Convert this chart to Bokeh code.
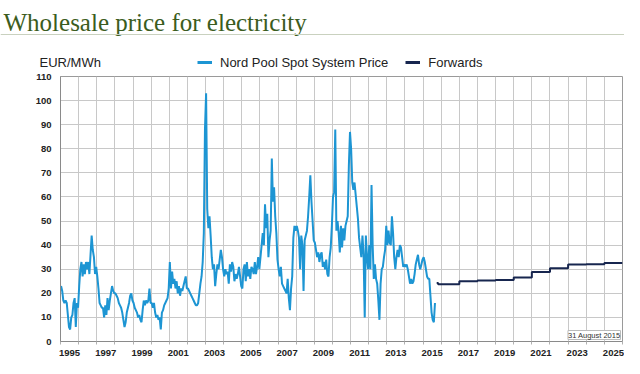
from bokeh.plotting import figure
from bokeh.layouts import column
from bokeh.models import Range1d, FixedTicker, Label, Legend, LegendItem, Span
from bokeh.embed import file_html
from bokeh.resources import INLINE

# ---------------- data ----------------
spot_start = 1995.0
spot_per_year = 16
spot_1995 = [23, 21, 17, 16, 17, 16, 11, 6, 5, 10, 11, 16, 18, 6, 16, 14]
spot_1996 = [23, 30, 33, 27, 32, 28, 33, 30, 33, 28, 36, 44, 38, 35, 28, 31]
spot_1997 = [27, 22, 16, 15, 14, 14, 10, 15, 11, 18, 13, 17, 20, 23, 21, 20]
spot_1998 = [20, 19, 18, 16, 15, 14, 12, 9, 6, 8, 12, 14, 16, 19, 20, 17]
spot_1999 = [16, 14, 13, 12, 10, 11, 9, 8, 13, 17, 15, 17, 16, 17, 22, 16]
spot_2000 = [16, 14, 16, 12, 10, 11, 9, 10, 5, 12, 13, 15, 16, 17, 18, 22]
spot_2001 = [33, 22, 29, 24, 26, 22, 25, 20, 23, 19, 22, 21, 23, 25, 27, 22]
spot_2002 = [22, 21, 20, 19, 18, 17, 16, 15, 15, 16, 20, 24, 27, 33, 45, 88]
spot_2003 = [103, 55, 47, 52, 44, 35, 30, 32, 23, 28, 32, 30, 34, 38, 35, 30]
spot_2004 = [27, 30, 28, 29, 24, 32, 29, 33, 31, 25, 28, 26, 28, 31, 27, 23]
spot_2005 = [22, 30, 32, 25, 33, 27, 30, 26, 31, 30, 28, 33, 28, 31, 35, 30]
spot_2006 = [35, 40, 45, 40, 57, 47, 53, 35, 42, 46, 76, 58, 64, 52, 45, 34]
spot_2007 = [30, 27, 31, 24, 23, 22, 21, 20, 26, 18, 13, 22, 27, 43, 48, 46]
spot_2008 = [48, 46, 43, 30, 44, 40, 21, 42, 44, 46, 52, 60, 69, 58, 50, 42]
spot_2009 = [41, 38, 35, 37, 33, 36, 37, 31, 33, 30, 34, 28, 27, 35, 39, 48]
spot_2010 = [60, 62, 88, 46, 50, 45, 37, 48, 39, 47, 42, 48, 50, 52, 73, 87]
spot_2011 = [80, 66, 63, 66, 61, 56, 51, 43, 39, 35, 44, 36, 10, 44, 35, 30]
spot_2012 = [40, 30, 65, 40, 26, 32, 26, 24, 17, 9, 24, 30, 31, 35, 38, 48]
spot_2013 = [40, 46, 41, 40, 52, 45, 35, 30, 35, 38, 35, 40, 39, 35, 31, 32]
spot_2014 = [31, 32, 30, 27, 24, 26, 24, 25, 28, 32, 34, 36, 32, 30, 32, 34]
spot_2015 = [35, 33, 30, 27, 26, 26, 19, 12, 9, 8, 16]

fwd_dates = [2015.75, 2015.83, 2017, 2018, 2019, 2020, 2021, 2022, 2023, 2024, 2025, 2026]
fwd_values = [24.3, 23.8, 25.0, 25.3, 25.5, 26.6, 28.8, 30.4, 32.0, 32.1, 32.6, 32.6]

x_label_years = list(range(1995, 2026, 2))
grid_years = list(range(1995, 2027))
y_ticks = list(range(0, 111, 10))

title_text = "Wholesale price for electricity"
unit_text = "EUR/MWh"
spot_name = "Nord Pool Spot System Price"
fwd_name = "Forwards"
date_note = "31 August 2015"

spot_values = (spot_1995 + spot_1996 + spot_1997 + spot_1998 + spot_1999 + spot_2000 +
               spot_2001 + spot_2002 + spot_2003 + spot_2004 + spot_2005 + spot_2006 +
               spot_2007 + spot_2008 + spot_2009 + spot_2010 + spot_2011 + spot_2012 +
               spot_2013 + spot_2014 + spot_2015)
spot_dates = [spot_start + (i + 0.5) / spot_per_year for i in range(len(spot_values))]

FONT = "Liberation Sans"
SPOT_COLOR = "#1d95d3"
FWD_COLOR = "#17264f"
W = 624
HEAD_H = 70
MAIN_H = 288
NAN = float("nan")

# ---------------- header (title, rule, unit, legend) ----------------
head = figure(width=W, height=HEAD_H, x_range=Range1d(0, W), y_range=Range1d(0, HEAD_H),
              x_axis_type=None, y_axis_type=None, output_backend="svg", toolbar_location=None,
              min_border=0, min_border_left=0, min_border_right=0, min_border_top=0,
              min_border_bottom=0, frame_align=False)
head.outline_line_color = None
head.xgrid.visible = False
head.ygrid.visible = False

head.add_layout(Label(x=3, y=HEAD_H - 22, text=title_text, text_font="Liberation Serif",
                      text_font_size="25px", text_color="#3b5c20", text_baseline="alphabetic"))
head.add_layout(Span(location=HEAD_H - 34, dimension="width", line_color="#c9d1bf", line_width=1))
head.add_layout(Label(x=39, y=HEAD_H - 61.5, text=unit_text, text_font=FONT,
                      text_font_size="13px", text_color="#222222", text_baseline="middle"))

# legend keys: renderers that carry only the line style (no visible data)
key_spot = head.line([NAN, NAN], [NAN, NAN], line_color=SPOT_COLOR, line_width=3)
key_fwd = head.line([NAN, NAN], [NAN, NAN], line_color=FWD_COLOR, line_width=3)
legend = Legend(items=[LegendItem(label=spot_name, renderers=[key_spot]),
                       LegendItem(label=fwd_name, renderers=[key_fwd])],
                orientation="horizontal", location=(197, 0),
                padding=0, margin=0, spacing=17, label_standoff=8,
                glyph_width=15, glyph_height=16, label_height=16,
                border_line_color=None, background_fill_alpha=0,
                label_text_font=FONT, label_text_font_size="13px", label_text_color="#222222")
head.add_layout(legend)

# ---------------- main chart ----------------
p = figure(width=W, height=MAIN_H, x_range=Range1d(1995, 2026), y_range=Range1d(0, 110),
           output_backend="svg", toolbar_location=None, frame_align=False,
           min_border_left=60, min_border_right=2, min_border_top=6, min_border_bottom=14)
p.outline_line_color = "#9a9a9a"

p.xaxis.ticker = FixedTicker(ticks=[y + 0.5 for y in x_label_years], minor_ticks=grid_years)
p.xaxis.major_label_overrides = {y + 0.5: str(y) for y in x_label_years}
p.yaxis.ticker = FixedTicker(ticks=y_ticks)
for ax in (p.xaxis, p.yaxis):
    ax.major_tick_line_color = None
    ax.minor_tick_line_color = None
    ax.axis_line_color = "#8a8a8a"
    ax.major_label_text_font = FONT
    ax.major_label_text_font_size = "9.5px"
    ax.major_label_text_font_style = "bold"
    ax.major_label_text_color = "#222222"
p.xaxis.minor_tick_line_color = "#b0b0b0"
p.xaxis.minor_tick_in = 0
p.xaxis.minor_tick_out = 3
p.xaxis.major_label_standoff = 2
p.yaxis.major_label_standoff = 3
p.xgrid.ticker = FixedTicker(ticks=grid_years)
p.xgrid.grid_line_color = "#c8c8c8"
p.ygrid.grid_line_color = "#c8c8c8"

p.line(spot_dates, spot_values, line_color=SPOT_COLOR, line_width=2)
p.step(fwd_dates, fwd_values, mode="after", line_color=FWD_COLOR, line_width=2)

p.add_layout(Label(x=2026, y=0, x_offset=-2, y_offset=2, text=date_note, text_font=FONT,
                   text_font_size="7.5px", text_color="#333333", text_align="right",
                   text_baseline="bottom", background_fill_color="white",
                   border_line_color="#bbbbbb"))

layout = column(head, p, spacing=0)
open("out.html", "w").write(file_html(layout, INLINE))
